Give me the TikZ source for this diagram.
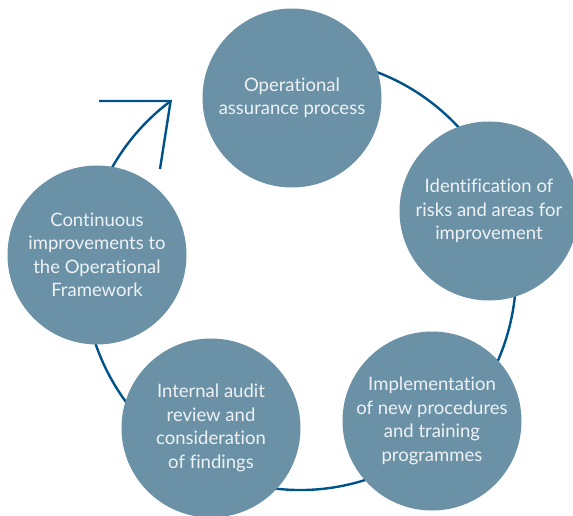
\documentclass[tikz,border=0pt]{standalone}
\usepackage{fontspec}
\setmainfont{Lato}[Ligatures={NoCommon}]
\definecolor{stagefill}{RGB}{107,145,167}
\definecolor{flowblue}{RGB}{0,83,138}
\definecolor{stagetext}{RGB}{238,242,245}
\tikzset{
  stage/.style={circle, fill=stagefill, inner sep=0pt, minimum size=179pt,
    align=center, text=stagetext, font=\fontsize{18.5}{23.5}\selectfont},
  flow/.style={draw=flowblue, line width=2.4pt}
}
\begin{document}
\begin{tikzpicture}[x=1pt, y=1pt]
    \useasboundingbox (0,0) rectangle (573,515);
    % 
    \coordinate (hub) at (300,241);
    % 
    \draw[flow] (hub) ++(80:216) arc[start angle=80, end angle=-233.2, radius=216] coordinate (tip);
    % 
    \coordinate (headL) at (99,414);
    \coordinate (headB) at (160,346);
    % 
    \draw[flow, line join=miter] (headL) -- (tip) -- (headB);
    %%%%%%%%%%%%%%%%%%%%%% 
    \node[stage] (ops) at (292,417) {Operational\\assurance process};
    % 
    \node[stage] (risk) at (489,304) {Identification of\\risks and areas for\\improvement};
    % 
    \node[stage] (impl) at (432,94) {Implementation\\of new procedures\\and training\\programmes};
    % 
    \node[stage] (audit) at (211,87) {Internal audit\\review and\\consideration\\of findings};
    % 
    \node[stage] (cont) at (97,260) {Continuous\\improvements to\\the Operational\\Framework};
\end{tikzpicture}
\end{document}
